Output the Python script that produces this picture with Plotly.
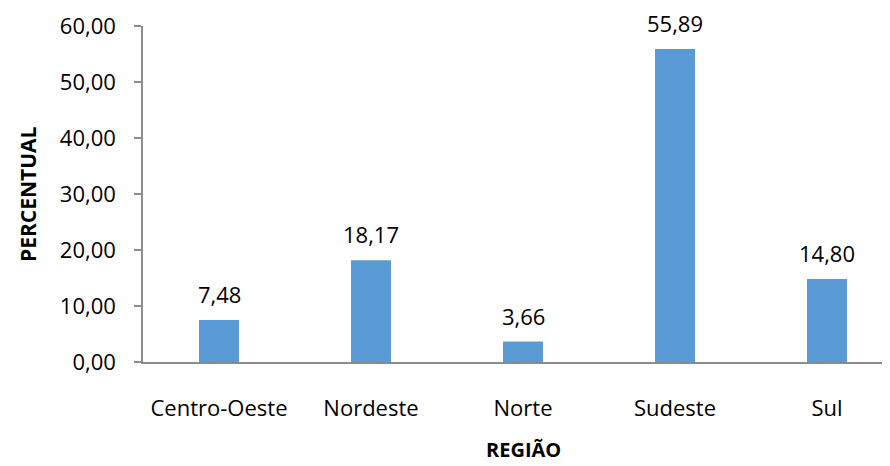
import plotly.graph_objects as go

regioes = ["Centro-Oeste", "Nordeste", "Norte", "Sudeste", "Sul"]
percentual = [7.48, 18.17, 3.66, 55.89, 14.80]
y_ticks = [0, 10, 20, 30, 40, 50, 60]

FONT = "Open Sans"
AXIS = "#8c8c8c"
FS = 22

# page body has an 8px margin; compensate so the plot sits where the reference has it
OFF = 8
W, H = 890 - OFF, 466 - OFF
L, T, B = 143 - OFF, 26 - OFF, 104
cat_px = 152.0
plot_w = W - L
xmax = -0.5 + plot_w / cat_px

xs = list(range(len(regioes)))

fig = go.Figure()
fig.add_trace(go.Bar(
    x=xs,
    y=percentual,
    width=0.263,
    marker=dict(color="#5b9bd5", line=dict(width=0)),
    hovertemplate="%{y:.2f}<extra></extra>",
))

# value labels above bars
value_annotations = [
    dict(x=x, y=v, xref="x", yref="y", text=f"{v:.2f}".replace(".", ","),
         showarrow=False, xanchor="center", yanchor="middle", yshift=26,
         font=dict(family=FONT, size=FS, color="#000000"))
    for x, v in zip(xs, percentual)
]

fig.update_layout(
    width=W, height=H,
    margin=dict(l=L, r=0, t=T, b=B, pad=0),
    plot_bgcolor="white", paper_bgcolor="white",
    separators=",.",
    showlegend=False,
    font=dict(family=FONT, size=FS, color="#000000"),
    xaxis=dict(
        range=[-0.5, xmax],
        tickmode="array",
        tickvals=xs,
        ticktext=regioes,
        ticks="",
        ticklabelstandoff=26,
        showline=True, linecolor=AXIS, linewidth=1.5,
        showgrid=False, zeroline=False,
        tickfont=dict(family=FONT, size=FS, color="#000000"),
    ),
    yaxis=dict(
        range=[0, 60],
        tickvals=y_ticks,
        tickformat=".2f",
        ticks="outside", ticklen=7, tickcolor=AXIS, tickwidth=1.5,
        ticklabelstandoff=14,
        showline=True, linecolor=AXIS, linewidth=1.5,
        showgrid=False, zeroline=False,
        tickfont=dict(family=FONT, size=FS, color="#000000"),
    ),
    annotations=value_annotations + [
        dict(text="<b>PERCENTUAL</b>", xref="paper", yref="paper",
             x=0, y=0.5, xshift=-115, xanchor="center", yanchor="middle",
             textangle=-90, showarrow=False,
             font=dict(family=FONT, size=21, color="#000000")),
        dict(text="<b>REGIÃO</b>", xref="paper", yref="paper",
             x=(2.0 + 0.5) / (xmax + 0.5), y=0, yshift=-87,
             xanchor="center", yanchor="middle", showarrow=False,
             font=dict(family=FONT, size=20, color="#000000")),
    ],
)

# category separator tick marks on the x axis (between categories)
fig.add_trace(go.Scatter(
    x=[-0.5, -0.5, None, 0.5, 0.5, None, 1.5, 1.5, None, 2.5, 2.5, None, 3.5, 3.5],
    y=[0, -1.25, None, 0, -1.25, None, 0, -1.25, None, 0, -1.25, None, 0, -1.25],
    mode="lines", line=dict(color=AXIS, width=1.5),
    hoverinfo="skip", cliponaxis=False,
))

fig.write_html("out.html")
